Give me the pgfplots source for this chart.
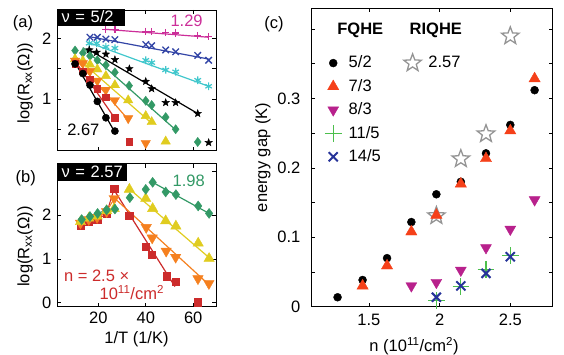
\documentclass[border=0pt]{standalone}
\usepackage{fontspec}
\setmainfont{Liberation Sans}
\usepackage{pgfplots}
\pgfplotsset{compat=1.18}
\usetikzlibrary{plotmarks}

\pgfdeclareplotmark{ostar}{%
 \pgfpathmoveto{\pgfpointpolar{90}{1\pgfplotmarksize}}%
 \pgfpathlineto{\pgfpointpolar{126}{0.42\pgfplotmarksize}}%
 \pgfpathlineto{\pgfpointpolar{162}{1\pgfplotmarksize}}%
 \pgfpathlineto{\pgfpointpolar{198}{0.42\pgfplotmarksize}}%
 \pgfpathlineto{\pgfpointpolar{234}{1\pgfplotmarksize}}%
 \pgfpathlineto{\pgfpointpolar{270}{0.42\pgfplotmarksize}}%
 \pgfpathlineto{\pgfpointpolar{306}{1\pgfplotmarksize}}%
 \pgfpathlineto{\pgfpointpolar{342}{0.42\pgfplotmarksize}}%
 \pgfpathlineto{\pgfpointpolar{18}{1\pgfplotmarksize}}%
 \pgfpathlineto{\pgfpointpolar{54}{0.42\pgfplotmarksize}}%
 \pgfpathclose
 \pgfusepathqstroke}
\pgfdeclareplotmark{fstar}{%
 \pgfpathmoveto{\pgfpointpolar{90}{1\pgfplotmarksize}}%
 \pgfpathlineto{\pgfpointpolar{126}{0.42\pgfplotmarksize}}%
 \pgfpathlineto{\pgfpointpolar{162}{1\pgfplotmarksize}}%
 \pgfpathlineto{\pgfpointpolar{198}{0.42\pgfplotmarksize}}%
 \pgfpathlineto{\pgfpointpolar{234}{1\pgfplotmarksize}}%
 \pgfpathlineto{\pgfpointpolar{270}{0.42\pgfplotmarksize}}%
 \pgfpathlineto{\pgfpointpolar{306}{1\pgfplotmarksize}}%
 \pgfpathlineto{\pgfpointpolar{342}{0.42\pgfplotmarksize}}%
 \pgfpathlineto{\pgfpointpolar{18}{1\pgfplotmarksize}}%
 \pgfpathlineto{\pgfpointpolar{54}{0.42\pgfplotmarksize}}%
 \pgfpathclose
 \pgfusepathqfillstroke}

\definecolor{amag}{rgb}{0.80,0.18,0.60}
\definecolor{ablue}{rgb}{0.20,0.27,0.65}
\definecolor{acyan}{rgb}{0.25,0.78,0.80}
\definecolor{agreen}{rgb}{0.20,0.60,0.40}
\definecolor{ayellow}{rgb}{0.88,0.80,0.12}
\definecolor{aorange}{rgb}{0.96,0.50,0.12}
\definecolor{ared}{rgb}{0.80,0.17,0.17}
\definecolor{cred}{rgb}{0.96,0.25,0.10}
\definecolor{cmag}{rgb}{0.72,0.13,0.55}
\definecolor{cgreen}{rgb}{0.30,0.75,0.30}
\definecolor{cblue}{rgb}{0.15,0.20,0.60}
\definecolor{cgray}{rgb}{0.58,0.58,0.58}

\pgfplotsset{
  panel/.style={scale only axis, anchor=south west, clip=false,
    tick align=inside, major tick length=4pt, minor tick length=4pt,
    tick style={black, line width=0.7pt}, axis line style={line width=0.8pt},
    /pgf/number format/assume math mode=true,
    font=\fontsize{16.5}{19}\selectfont,
    tick label style={font=\fontsize{16.5}{19}\selectfont},
    label style={font=\fontsize{16.5}{19}\selectfont},
  },
  fit/.style={line width=1.2pt},
}

\begin{document}
\fontsize{16.5}{19}\selectfont
\begin{tikzpicture}[x=1pt,y=1pt]
\path[use as bounding box] (0,0) rectangle (564,354);

% ---------------- panel (a)
\begin{axis}[panel, at={(57pt,203.3pt)}, width=159pt, height=140.7pt,
  xmin=2.6, xmax=69.6, ymin=0.146, ymax=2.47,
  xtick={20,40,60}, xticklabels={{},{},{}},
  ytick={0.5,1,1.5,2}, yticklabels={{},1,{},2},
  ylabel={log(R\textsubscript{xx}(Ω))},
  ylabel style={at={(axis description cs:-0.201,0.48)}, anchor=center},
]
% fit lines
\addplot[amag, fit] coordinates {(23.2,2.15) (66.5,2.02)};
\addplot[ablue, fit] coordinates {(16.2,2.03) (66.5,1.66)};
\addplot[acyan, fit] coordinates {(16.2,1.93) (66.5,1.21)};
\addplot[black, fit] coordinates {(16.2,1.81) (61.9,0.76)};
\addplot[agreen, fit] coordinates {(13.5,1.85) (52.6,0.49)};
\addplot[ayellow, fit] coordinates {(10.4,1.70) (42.5,0.60)};
\addplot[aorange, fit] coordinates {(10.4,1.66) (32.6,0.66)};
\addplot[ared, fit] coordinates {(10.2,1.63) (27,0.68)};
\addplot[black, fit] coordinates {(9.8,1.63) (27,0.45)};
% data
\addplot[only marks, amag, mark=+, mark size=3.6pt, line width=1.2pt] coordinates {
 (23.2,2.15) (27,2.15) (40,2.12) (42.5,2.11) (48.4,2.10) (52.6,2.09) (61.9,2.05) (66.5,2.03)};
\addplot[only marks, ablue, mark=x, mark size=4.6pt, line width=1.3pt] coordinates {
 (16.5,2.02) (19.6,2.02) (23.2,1.99) (27,1.98) (40,1.90) (42.5,1.88) (48.4,1.81) (52.6,1.78) (61.9,1.72) (66.5,1.64)};
\addplot[only marks, acyan, mark=asterisk, mark size=3.8pt, line width=1.2pt] coordinates {
 (16.2,1.92) (19.3,1.92) (23.2,1.86) (27,1.84) (40,1.64) (42.5,1.60) (48.4,1.48) (52.6,1.45) (61.9,1.31) (66.5,1.21)};
\addplot[only marks, black, mark=fstar, mark size=3.9pt] coordinates {
 (16.2,1.81) (19.3,1.77) (23.2,1.74) (27,1.65) (33.1,1.50) (40,1.29) (42.5,1.17) (48.4,0.94) (52.6,0.94) (61.9,0.76) (66.5,0.28)};
\addplot[only marks, agreen, mark=diamond*, mark size=4.6pt] coordinates {
 (10.2,1.80) (13.5,1.76) (16.5,1.71) (19.6,1.64) (23.2,1.56) (27,1.44) (33,1.22) (40,0.97) (42.5,0.90) (48.4,0.70) (52.6,0.50) (61.9,0.29)};
\addplot[only marks, ayellow, mark=triangle*, mark size=5.4pt] coordinates {
 (10.2,1.66) (13.5,1.63) (16.5,1.57) (19.6,1.49) (23.2,1.38) (27,1.23) (32.6,0.98) (40,0.72) (42.5,0.62) (48.4,0.30)};
\addplot[only marks, aorange, mark=triangle*, mark size=5.4pt, mark options={rotate=180}] coordinates {
 (10.2,1.63) (13.5,1.59) (16.5,1.46) (19.6,1.30) (23.2,1.15) (27,0.98) (32.6,0.68) (40,0.27)};
\addplot[only marks, ared, mark=square*, mark size=3.3pt] coordinates {
 (10.2,1.58) (13.5,1.46) (16.5,1.33) (19.6,1.17) (23.2,1.03) (27,0.69) (33,0.29)};
\addplot[only marks, black, mark=*, mark size=3.6pt] coordinates {
 (10.2,1.58) (13.5,1.42) (16.5,1.23) (19.6,0.96) (23.2,0.69) (27,0.47)};
\node[amag, anchor=base] at (axis cs:57.2,2.20) {1.29};
\node[black, anchor=base] at (axis cs:13.7,0.40) {2.67};
\node[fill=black, text=white, anchor=north west, inner xsep=4.5pt, inner ysep=2pt,
      text height=11.5pt, text depth=1.5pt, text width=59pt, align=left, yshift=1.5pt]
      at (rel axis cs:0,1) {ν = 5/2};
\end{axis}

% ---------------- panel (b)
\begin{axis}[panel, at={(57pt,47.3pt)}, width=159pt, height=143.2pt,
  xmin=2.6, xmax=69.6, ymin=-0.09, ymax=3.18,
  xtick={20,40,60},
  ytick={0,1,2,3}, yticklabels={0,1,2,{}},
  xlabel={1/T (1/K)},
  xlabel style={at={(axis description cs:0.5,-0.228)}, anchor=center},
  ylabel={log(R\textsubscript{xx}(Ω))},
  ylabel style={at={(axis description cs:-0.201,0.42)}, anchor=center},
]
% low-temperature-side connecting lines
\addplot[ared, line width=1pt] coordinates {(12.5,1.77) (16,1.85) (19.5,1.89) (23.5,2.04) (26.7,2.61)};
\addplot[aorange, line width=1pt] coordinates {(12.5,1.82) (16,1.90) (19.5,1.95) (23.5,2.08) (26.7,2.38)};
\addplot[ayellow, line width=1pt] coordinates {(12.5,1.85) (16,1.93) (19.5,1.98) (23.5,2.10) (26.7,2.15)};
\addplot[agreen, line width=1pt] coordinates {(13,1.90) (16.5,1.97) (19.7,2.04) (23.5,2.12) (27,2.14)};
% fit lines
\addplot[ared, fit] coordinates {(26.6,2.58) (52.3,0.37)};
\addplot[aorange, fit] coordinates {(26.6,2.40) (66.7,0.41)};
\addplot[ayellow, fit] coordinates {(33.1,2.60) (66.7,1.03)};
\addplot[agreen, fit] coordinates {(42.9,2.75) (66.7,2.04)};
% data
\addplot[only marks, ared, mark=square*, mark size=3.7pt] coordinates {
 (12.5,1.77) (16,1.85) (19.5,1.89) (23.5,2.04) (26.7,2.61) (33.1,1.99) (40,1.28) (42.5,1.10) (48.8,0.61) (52.7,0.48) (61.9,0.01)};
\addplot[only marks, aorange, mark=triangle*, mark size=6pt, mark options={rotate=180}] coordinates {
 (12.5,1.82) (16,1.90) (19.5,1.95) (23.5,2.08) (26.7,2.38) (40.2,1.72) (42.7,1.48) (48.6,1.18) (52.6,1.04) (62,0.55) (66.6,0.44)};
\addplot[only marks, ayellow, mark=triangle*, mark size=6pt] coordinates {
 (12.5,1.85) (16,1.93) (19.5,1.98) (23.5,2.10) (26.7,2.15) (33.1,2.59) (40,2.38) (42.9,2.15) (48.4,1.87) (52.7,1.75) (62.1,1.36) (66.7,1.01)};
\addplot[only marks, agreen, mark=diamond*, mark size=5pt] coordinates {
 (13,1.90) (16.5,1.97) (19.7,2.04) (23.5,2.12) (27,2.14) (33.3,2.40) (40,2.59) (42.9,2.75) (48.4,2.53) (52.7,2.47) (62.1,2.21) (66.7,2.04)};
\node[agreen, anchor=base] at (axis cs:58.1,2.66) {1.98};
\node[ared, anchor=base] at (axis cs:19.3,0.48) {n = 2.5 ×};
\node[ared, anchor=base] at (axis cs:34.1,0.078) {10\textsuperscript{11}/cm\textsuperscript{2}};
\node[fill=black, text=white, anchor=north west, inner xsep=4.5pt, inner ysep=2pt,
      text height=11.5pt, text depth=1.5pt, text width=61pt, align=left]
      at (rel axis cs:0,1) {ν = 2.57};
\end{axis}

% ---------------- panel (c)
\begin{axis}[panel, at={(311pt,47.3pt)}, width=241.7pt, height=298.4pt,
  xmin=1.09, xmax=2.80, ymin=0, ymax=0.43,
  xtick={1.5,2,2.5},
  ytick={0,0.1,0.2,0.3}, minor ytick={0.05,0.15,0.25,0.35,0.4},
  yticklabel style={xshift=-5pt},
  xticklabel style={yshift=-2pt},
  xlabel={n (10\textsuperscript{11}/cm\textsuperscript{2})},
  xlabel style={at={(axis description cs:0.426,-0.132)}, anchor=center},
  ylabel={energy gap (K)},
  ylabel style={at={(axis description cs:-0.199,0.5)}, anchor=center},
  legend columns=2,
  legend cell align=left,
  legend image code/.code={\path[draw=none,fill=none] (-8.5pt,-8pt) rectangle (8.5pt,8pt); \draw[#1] plot coordinates {(0pt,0pt)};},
  legend style={at={(axis description cs:0.056,0.848)}, anchor=north west,
    draw=none, fill=none, inner sep=0pt, row sep=5pt,
    nodes={inner sep=2pt},
    /tikz/every odd column/.append style={column sep=5pt},
    /tikz/every even column/.append style={column sep=21pt},
    font=\fontsize{16.5}{19}\selectfont},
]
\addplot[only marks, cgray, mark=ostar, mark size=9.2pt, line width=1.3pt, forget plot] coordinates {
 (1.977,0.131) (2.15,0.213) (2.328,0.249) (2.5,0.39)};
\addplot[only marks, black, mark=*, mark size=4pt, forget plot] coordinates {
 (1.278,0.0136) (1.455,0.0385) (1.628,0.070) (1.80,0.122) (1.977,0.162) (2.15,0.180) (2.328,0.221) (2.5,0.262) (2.672,0.312)};
\addplot[only marks, cred, mark=triangle*, mark size=6.5pt, forget plot] coordinates {
 (1.455,0.030) (1.628,0.059) (1.80,0.108) (1.977,0.132) (2.15,0.177) (2.328,0.2136) (2.5,0.2536) (2.672,0.3286)};
\addplot[only marks, cmag, mark=triangle*, mark size=6.3pt, mark options={rotate=180}, forget plot] coordinates {
 (1.80,0.030) (1.977,0.035) (2.15,0.0525) (2.328,0.085) (2.5,0.1116) (2.672,0.154)};
\addplot[only marks, cgreen, mark=+, mark size=8.3pt, line width=1.3pt, forget plot] coordinates {
 (1.977,0.0087) (2.15,0.029) (2.328,0.054) (2.5,0.0736)};
\addplot[only marks, cblue, mark=x, mark size=6.4pt, line width=2pt, forget plot] coordinates {
 (1.977,0.0136) (2.15,0.030) (2.328,0.048) (2.5,0.072)};
% legend
\addlegendimage{only marks, black, mark=*, mark size=4pt}
\addlegendentry{5/2}
\addlegendimage{only marks, cgray, mark=ostar, mark size=9.2pt, line width=1.3pt}
\addlegendentry{2.57}
\addlegendimage{only marks, cred, mark=triangle*, mark size=6.5pt}
\addlegendentry{7/3}
\addlegendimage{empty legend}
\addlegendentry{}
\addlegendimage{only marks, cmag, mark=triangle*, mark size=6.3pt, mark options={rotate=180}}
\addlegendentry{8/3}
\addlegendimage{empty legend}
\addlegendentry{}
\addlegendimage{only marks, cgreen, mark=+, mark size=8.3pt, line width=1.3pt}
\addlegendentry{11/5}
\addlegendimage{empty legend}
\addlegendentry{}
\addlegendimage{only marks, cblue, mark=x, mark size=6.4pt, line width=2pt}
\addlegendentry{14/5}
\end{axis}

\node[anchor=base west, font=\bfseries] at (331.7,319) {FQHE};
\node[anchor=base west, font=\bfseries] at (404,319) {RIQHE};
\node at (23,331) {(a)};
\node at (25.8,175.7) {(b)};
\node at (274,330) {(c)};
\end{tikzpicture}
\end{document}
